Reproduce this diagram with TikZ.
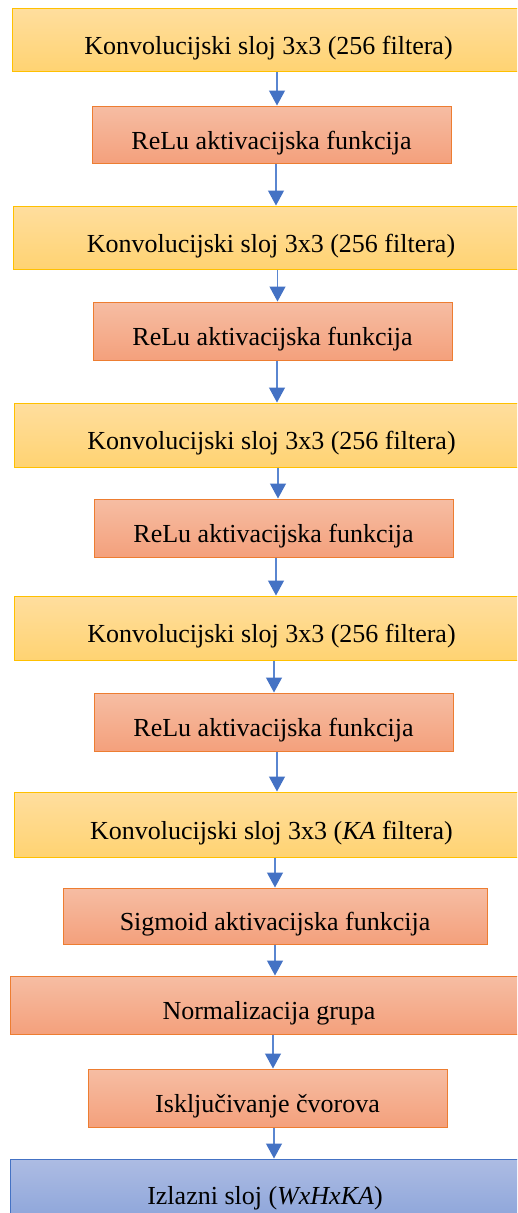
\documentclass[tikz,border=0pt]{standalone}
\usepackage{fontspec}
\setmainfont{Liberation Serif}
\usetikzlibrary{arrows.meta}
\definecolor{ytop}{HTML}{FFDE9E}
\definecolor{ybot}{HTML}{FFD372}
\definecolor{yline}{HTML}{FFC000}
\definecolor{otop}{HTML}{F6BDA3}
\definecolor{obot}{HTML}{F4A07C}
\definecolor{oline}{HTML}{ED7D31}
\definecolor{btop}{HTML}{ADBCE3}
\definecolor{bbot}{HTML}{8DA5DA}
\definecolor{bline}{HTML}{4472C4}
\definecolor{arrline}{HTML}{5A86D0}
\tikzset{
  boxbase/.style={rectangle, inner sep=0pt, line width=1pt,
    font=\fontsize{26}{30}\selectfont, text height=29pt, text depth=0pt},
  ybox/.style={boxbase, draw=yline, top color=ytop, bottom color=ybot},
  obox/.style={boxbase, draw=oline, top color=otop, bottom color=obot},
  bbox/.style={boxbase, draw=bline, top color=btop, bottom color=bbot},
  arr/.style={draw=arrline, line width=1.2pt,
    -{Triangle[width=16pt,length=15pt,color=bline]}}
}
% box from x1..x2, y1..y2 (px, y downward)
\newcommand{\mybox}[7]{%
  \pgfmathsetmacro{\bw}{#4-#3}%
  \pgfmathsetmacro{\bh}{#6-#5}%
  \pgfmathsetmacro{\bx}{(#3+#4)/2}%
  \pgfmathsetmacro{\by}{(#5+#6)/2}%
  \node[#1, minimum width=\bw pt, minimum height=\bh pt]
    (#2) at (\bx,\by) {#7};}
\begin{document}
\begin{tikzpicture}[x=1pt,y=-1pt]
\clip (0,0) rectangle (517,1213);
\fill[white] (0,0) rectangle (517,1213);
\mybox{ybox}{y1}{12}{525}{8}{71.5}{Konvolucijski sloj 3x3 (256 filtera)}
\mybox{obox}{r1}{92}{451}{106}{163.5}{ReLu aktivacijska funkcija}
\mybox{ybox}{y2}{13}{529}{206}{269}{Konvolucijski sloj 3x3 (256 filtera)}
\mybox{obox}{r2}{93}{452}{302}{360}{ReLu aktivacijska funkcija}
\mybox{ybox}{y3}{14}{529}{403}{467}{Konvolucijski sloj 3x3 (256 filtera)}
\mybox{obox}{r3}{94}{453}{499}{557}{ReLu aktivacijska funkcija}
\mybox{ybox}{y4}{14}{529}{596}{660}{Konvolucijski sloj 3x3 (256 filtera)}
\mybox{obox}{r4}{94}{453}{693}{751}{ReLu aktivacijska funkcija}
\mybox{ybox}{y5}{14}{529}{792}{857}{Konvolucijski sloj 3x3 (\textit{KA} filtera)}
\mybox{obox}{sg}{63}{487}{888}{944}{Sigmoid aktivacijska funkcija}
\mybox{obox}{ng}{10}{528}{976}{1034}{Normalizacija grupa}
\mybox{obox}{ic}{88}{447}{1069}{1127}{Isključivanje čvorova}
\mybox{bbox}{iz}{10}{520}{1159}{1220}{Izlazni sloj (\textit{WxHxKA})}
\coordinate (a1) at (277,0);
\coordinate (a2) at (276,0);
\coordinate (a3) at (277.5,0);
\coordinate (a4) at (277,0);
\coordinate (a5) at (278,0);
\coordinate (a6) at (276,0);
\coordinate (a7) at (274,0);
\coordinate (a8) at (277,0);
\coordinate (a9) at (275,0);
\coordinate (a10) at (275,0);
\coordinate (a11) at (273,0);
\coordinate (a12) at (274,0);
\draw[arr] (y1.south -| a1) -- (r1.north -| a1);
\draw[arr] (r1.south -| a2) -- (y2.north -| a2);
\draw[arr] (y2.south -| a3) -- (r2.north -| a3);
\draw[arr] (r2.south -| a4) -- (y3.north -| a4);
\draw[arr] (y3.south -| a5) -- (r3.north -| a5);
\draw[arr] (r3.south -| a6) -- (y4.north -| a6);
\draw[arr] (y4.south -| a7) -- (r4.north -| a7);
\draw[arr] (r4.south -| a8) -- (y5.north -| a8);
\draw[arr] (y5.south -| a9) -- (sg.north -| a9);
\draw[arr] (sg.south -| a10) -- (ng.north -| a10);
\draw[arr] (ng.south -| a11) -- (ic.north -| a11);
\draw[arr] (ic.south -| a12) -- (iz.north -| a12);
\end{tikzpicture}
\end{document}
